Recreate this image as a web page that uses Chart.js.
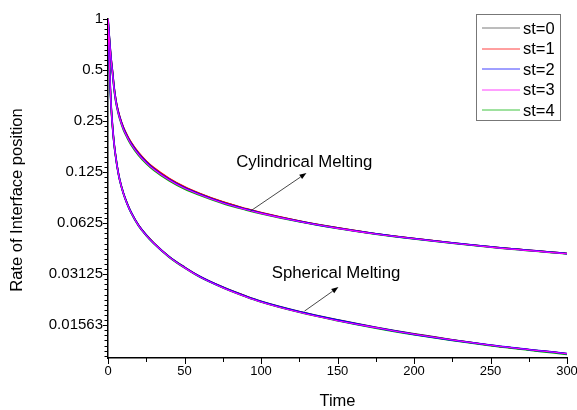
<!DOCTYPE html>
<html><head><meta charset="utf-8">
<script src="https://cdn.jsdelivr.net/npm/chart.js@4/dist/chart.umd.min.js"></script>
<style>html,body{margin:0;padding:0;background:#fff}#wrap{width:577px;height:410px}</style>
</head><body><div id="wrap"><canvas id="c" width="577" height="410"></canvas></div>
<script>
// ---- data ----
const times = [0,0.25,0.5,1,1.5,2,3,4,5,6,7.5,10,12.5,15,20,25,30,40,50,60,75,90,100,125,150,175,200,250,300];
const seriesNames = ['st=0','st=1','st=2','st=3','st=4'];
const seriesColors = ['#222222','#ff0000','#0000ff','#ff00ff','#00b000'];

const cylSt0 = [1,0.933,0.865,0.758,0.662,0.586,0.485,0.394,0.338,0.303,0.2677,0.2293,0.205,0.1868,0.1615,0.1443,0.1316,0.1139,0.1018,0.0931,0.0831,0.0759,0.0719,0.0642,0.0586,0.0541,0.0507,0.0453,0.0413];
const cylSt1 = [1,0.935,0.87,0.765,0.668,0.592,0.49,0.398,0.342,0.306,0.27,0.2315,0.207,0.1885,0.163,0.1455,0.1327,0.1148,0.1025,0.0937,0.0835,0.0762,0.0722,0.0644,0.0587,0.0542,0.0508,0.0453,0.0414];
const cylSt2 = [1,0.93,0.86,0.75,0.655,0.58,0.48,0.39,0.335,0.3,0.265,0.227,0.203,0.185,0.16,0.143,0.1305,0.113,0.101,0.0925,0.0826,0.0755,0.0716,0.064,0.0584,0.054,0.0506,0.0452,0.0413];
const cylSt3 = [1,0.927,0.855,0.742,0.648,0.574,0.475,0.386,0.332,0.297,0.2623,0.2247,0.201,0.1832,0.1585,0.1417,0.1294,0.1121,0.1002,0.0919,0.0821,0.0751,0.0713,0.0638,0.0582,0.0539,0.0505,0.0451,0.0412];
const cylSt4 = [1,0.925,0.85,0.735,0.642,0.568,0.47,0.382,0.328,0.294,0.2597,0.2225,0.199,0.1813,0.1568,0.1402,0.128,0.111,0.0993,0.0912,0.0816,0.0748,0.071,0.0636,0.0581,0.0538,0.0504,0.0451,0.0412];

const sphSt0 = [1,0.825,0.685,0.523,0.392,0.312,0.2313,0.184,0.1558,0.1352,0.1146,0.0945,0.0819,0.0729,0.0608,0.0533,0.0477,0.0397,0.0344,0.0303,0.0262,0.0232,0.0216,0.0188,0.0168,0.0152,0.0139,0.0119,0.0106];
const sphSt1 = [1,0.823,0.683,0.522,0.391,0.311,0.2308,0.1836,0.1555,0.135,0.1144,0.0943,0.0817,0.0727,0.0607,0.0532,0.0476,0.0396,0.0343,0.0303,0.0262,0.0232,0.0215,0.0187,0.0167,0.0151,0.0138,0.0119,0.0106];
const sphSt2 = [1,0.82,0.68,0.52,0.39,0.31,0.23,0.183,0.155,0.1345,0.114,0.094,0.0815,0.0725,0.0605,0.053,0.0475,0.0395,0.0342,0.0302,0.0261,0.0231,0.0215,0.0187,0.0167,0.0151,0.0138,0.0119,0.0106];
const sphSt3 = [1,0.817,0.677,0.518,0.389,0.309,0.2292,0.1824,0.1545,0.134,0.1136,0.0937,0.0812,0.0723,0.0603,0.0528,0.0474,0.0394,0.0341,0.0301,0.026,0.023,0.0214,0.0186,0.0166,0.0151,0.0138,0.0119,0.0106];
const sphSt4 = [1,0.815,0.675,0.516,0.387,0.308,0.2285,0.1818,0.154,0.1336,0.1132,0.0934,0.081,0.0721,0.0601,0.0527,0.0472,0.0393,0.034,0.03,0.026,0.023,0.0214,0.0186,0.0166,0.015,0.0137,0.0118,0.0105];

const cylSeries = [cylSt0,cylSt1,cylSt2,cylSt3,cylSt4];
const sphSeries = [sphSt0,sphSt1,sphSt2,sphSt3,sphSt4];

const xTicks = [0,50,100,150,200,250,300];
const yTickValues = [1,0.5,0.25,0.125,0.0625,0.03125,0.015625];
const yTickLabels = ['1','0.5','0.25','0.125','0.0625','0.03125','0.01563'];

const xTitle = 'Time';
const yTitle = 'Rate of Interface position';

// annotations in data coordinates: [t, value]
const cylLabel = {text:'Cylindrical Melting', at:[83.8,0.134], from:[93,0.0735], to:[129.7,0.1234]};
const sphLabel = {text:'Spherical Melting', at:[107,0.0298], from:[128.4,0.0189], to:[150.6,0.0262]};

// ---- build datasets ----
const drawOrder = [4,3,1,0,2];  // lower = drawn on top
const widths = [1.6,1.4,1.8,1.1,1.6];
const datasets = [];
for (let s = 0; s < 5; s++) {
  [cylSeries[s], sphSeries[s]].forEach(arr => {
    datasets.push({
      label: seriesNames[s],
      data: times.map((t,i) => ({x:t, y:arr[i]})),
      borderColor: seriesColors[s],
      borderWidth: widths[s],
      pointRadius: 0,
      fill: false,
      cubicInterpolationMode: 'monotone',
      order: drawOrder[s]
    });
  });
}

const FONT = "'Liberation Sans', Arial, sans-serif";

const decor = {
  id: 'decor',
  afterDraw(chart) {
    const ctx = chart.ctx;
    const xs = chart.scales.x, ys = chart.scales.y;
    const ca = chart.chartArea;
    ctx.save();
    ctx.strokeStyle = '#000';
    ctx.lineWidth = 1;
    // x ticks
    for (let v = 0; v <= 300; v += 25) {
      const px = Math.round(xs.getPixelForValue(v)) + 0.5;
      const len = (v % 50 === 0) ? 6 : 4;
      ctx.beginPath(); ctx.moveTo(px, ca.bottom); ctx.lineTo(px, ca.bottom + len); ctx.stroke();
    }
    // y ticks (major at powers of 2, 9 minors between)
    for (let k = 0; k <= 7; k++) {
      for (let j = 0; j < 10; j++) {
        const val = Math.pow(2, -(k + j/10));
        if (val < ys.min * 0.999) break;
        const py = Math.round(ys.getPixelForValue(val)) + 0.5;
        const len = (j === 0) ? 5 : 3.5;
        ctx.beginPath(); ctx.moveTo(ca.left, py); ctx.lineTo(ca.left - len, py); ctx.stroke();
      }
    }
    // axis titles
    ctx.fillStyle = '#000';
    ctx.font = '16.5px ' + FONT;
    ctx.textAlign = 'center'; ctx.textBaseline = 'middle';
    ctx.fillText(xTitle, (ca.left + ca.right)/2, 401);
    ctx.save();
    ctx.translate(17, 200);
    ctx.rotate(-Math.PI/2);
    ctx.fillText(yTitle, 0, 0);
    ctx.restore();

    // annotations
    [cylLabel, sphLabel].forEach(a => {
      ctx.font = '16.8px ' + FONT;
      ctx.textAlign = 'left'; ctx.textBaseline = 'alphabetic';
      ctx.fillStyle = '#000';
      ctx.fillText(a.text, xs.getPixelForValue(a.at[0]), ys.getPixelForValue(a.at[1]));
      const x1 = xs.getPixelForValue(a.from[0]), y1 = ys.getPixelForValue(a.from[1]);
      const x2 = xs.getPixelForValue(a.to[0]), y2 = ys.getPixelForValue(a.to[1]);
      const ang = Math.atan2(y2 - y1, x2 - x1);
      const hl = 7, hw = 2.6;
      ctx.strokeStyle = '#333'; ctx.lineWidth = 0.9;
      ctx.beginPath(); ctx.moveTo(x1, y1);
      ctx.lineTo(x2 - hl*Math.cos(ang), y2 - hl*Math.sin(ang)); ctx.stroke();
      ctx.fillStyle = '#000';
      ctx.beginPath();
      ctx.moveTo(x2, y2);
      ctx.lineTo(x2 - hl*Math.cos(ang) + hw*Math.sin(ang), y2 - hl*Math.sin(ang) - hw*Math.cos(ang));
      ctx.lineTo(x2 - hl*Math.cos(ang) - hw*Math.sin(ang), y2 - hl*Math.sin(ang) + hw*Math.cos(ang));
      ctx.closePath(); ctx.fill();
    });

    // legend
    const lx = 476.5, ly = 14.5, lw = 84, lh = 106;
    ctx.strokeStyle = '#777'; ctx.lineWidth = 1;
    ctx.strokeRect(lx, ly, lw, lh);
    ctx.font = '16.5px ' + FONT;
    ctx.textAlign = 'left'; ctx.textBaseline = 'middle';
    seriesNames.forEach((n, i) => {
      const cy = 28 + i*20.5;
      ctx.strokeStyle = seriesColors[i]; ctx.lineWidth = 1;
      ctx.globalAlpha = (i === 0) ? 0.6 : 0.75;
      ctx.beginPath(); ctx.moveTo(482, Math.round(cy)); ctx.lineTo(520, Math.round(cy)); ctx.stroke();
      ctx.globalAlpha = 1;
      ctx.fillStyle = '#000';
      ctx.fillText(n, 523, cy + 1);
    });
    ctx.restore();
  }
};

new Chart(document.getElementById('c'), {
  type: 'line',
  data: { datasets },
  options: {
    responsive: false,
    animation: false,
    events: [],
    layout: { padding: { left: 0, top: 19, right: 10, bottom: 0 } },
    plugins: { legend: { display: false }, tooltip: { enabled: false } },
    scales: {
      x: {
        type: 'linear', min: 0, max: 300,
        afterBuildTicks: s => { s.ticks = xTicks.map(v => ({value: v})); },
        afterFit: s => { s.height = 52; s.paddingRight = 0; s.paddingLeft = 0; },
        grid: { display: false, drawTicks: false },
        border: { display: true, color: '#000', width: 1.5 },
        ticks: { color: '#000', font: { family: FONT, size: 13 }, padding: 6, maxRotation: 0 }
      },
      y: {
        type: 'logarithmic', min: 0.01, max: 1,
        afterBuildTicks: s => { s.ticks = yTickValues.map(v => ({value: v})); },
        afterFit: s => { s.width = 108; s.paddingTop = 0; s.paddingBottom = 0; },
        grid: { display: false, drawTicks: false },
        border: { display: true, color: '#000', width: 1.5 },
        ticks: { color: '#000', font: { family: FONT, size: 15 }, padding: 5,
          callback: (v, i) => yTickLabels[i] }
      }
    }
  },
  plugins: [decor]
});
</script>
</body></html>
